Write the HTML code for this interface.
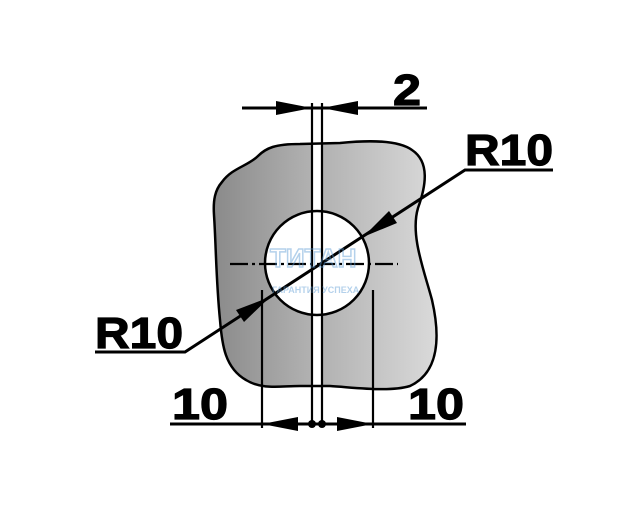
<!DOCTYPE html>
<html><head><meta charset="utf-8"><style>
html,body{margin:0;padding:0;background:#fff;width:640px;height:515px;overflow:hidden}
</style></head><body>
<svg width="640" height="515" viewBox="0 0 640 515" xmlns="http://www.w3.org/2000/svg">
<defs>
<linearGradient id="gl" x1="0" x2="1" y1="0" y2="0">
<stop offset="0" stop-color="#8a8a8a"/><stop offset="1" stop-color="#e4e4e4"/></linearGradient>
<linearGradient id="gr" x1="0" x2="1" y1="0" y2="0">
<stop offset="0" stop-color="#8c8c8c"/><stop offset="1" stop-color="#dadada"/></linearGradient>
<clipPath id="cl"><rect x="0" y="0" width="313" height="515"/></clipPath>
<clipPath id="cr"><rect x="322" y="0" width="318" height="515"/></clipPath>
</defs>
<path d="M222,182 C232,168 248,166 258,156 C266,148 275,144 300,144 L340,143 C370,140 398,140 412,150 C430,162 426,186 418,208 C410,235 424,270 432,300 C440,335 440,372 410,386 C390,392 360,388 330,386 L300,386 C280,386 262,390 246,380 C225,368 222,345 220,320 C216,280 216,245 214,215 C213,200 215,190 222,182 Z" fill="url(#gl)" clip-path="url(#cl)"/>
<path d="M222,182 C232,168 248,166 258,156 C266,148 275,144 300,144 L340,143 C370,140 398,140 412,150 C430,162 426,186 418,208 C410,235 424,270 432,300 C440,335 440,372 410,386 C390,392 360,388 330,386 L300,386 C280,386 262,390 246,380 C225,368 222,345 220,320 C216,280 216,245 214,215 C213,200 215,190 222,182 Z" fill="url(#gr)" clip-path="url(#cr)"/>
<rect x="313" y="140" width="9" height="250" fill="#fff"/>
<circle cx="317" cy="263" r="52" fill="#fff"/>
<g fill="none" stroke="#000" stroke-width="3">
<path d="M222,182 C232,168 248,166 258,156 C266,148 275,144 300,144 L340,143 C370,140 398,140 412,150 C430,162 426,186 418,208 C410,235 424,270 432,300 C440,335 440,372 410,386 C390,392 360,388 330,386 L300,386 C280,386 262,390 246,380 C225,368 222,345 220,320 C216,280 216,245 214,215 C213,200 215,190 222,182 Z" stroke-width="2.5"/>
<circle cx="317" cy="263" r="52" stroke-width="2.5"/>
<line x1="312" y1="103" x2="312" y2="425" stroke-width="2.2"/>
<line x1="322" y1="103" x2="322" y2="425" stroke-width="2.2"/>
<line x1="242" y1="108" x2="427" y2="108"/>
<line x1="170" y1="424" x2="466" y2="424"/>
<line x1="262" y1="290" x2="262" y2="428" stroke-width="2.2"/>
<line x1="373" y1="290" x2="373" y2="428" stroke-width="2.2"/>
<polyline points="95,352 185,352 465,170 553,170"/>
<line x1="230" y1="264" x2="398" y2="264" stroke-width="2.2" stroke-dasharray="18,4,3,4"/>
</g>
<g fill="#000">
<polygon points="312,108 276,101 276,115"/>
<polygon points="322,108 358,101 358,115"/>
<polygon points="262,424 298,417 298,431"/>
<polygon points="373,424 337,417 337,431"/>
<polygon points="363,237 397,223 389,211"/>
<polygon points="270,297 244,322 236,310"/>
<circle cx="312" cy="424" r="4"/><circle cx="322" cy="424" r="4"/>
</g>
<g font-family="Liberation Sans, sans-serif" font-weight="bold" font-size="44" fill="#000" stroke="#000" stroke-width="1.2">
<text x="393" y="105" textLength="28" lengthAdjust="spacingAndGlyphs">2</text>
<text x="465" y="165" textLength="88" lengthAdjust="spacingAndGlyphs">R10</text>
<text x="95" y="348" textLength="88" lengthAdjust="spacingAndGlyphs">R10</text>
<text x="172" y="419" textLength="56" lengthAdjust="spacingAndGlyphs">10</text>
<text x="408" y="419" textLength="56" lengthAdjust="spacingAndGlyphs">10</text>
</g>
<g opacity="0.45" fill="#5b9bd5" font-family="Liberation Sans, sans-serif" font-weight="bold">
<text x="270" y="267" font-size="26" fill="none" stroke="#5b9bd5" stroke-width="1.5">ТИТАН</text>
<text x="272" y="293" font-size="9">ГАРАНТИЯ УСПЕХА</text>
</g>
</svg>
</body></html>
